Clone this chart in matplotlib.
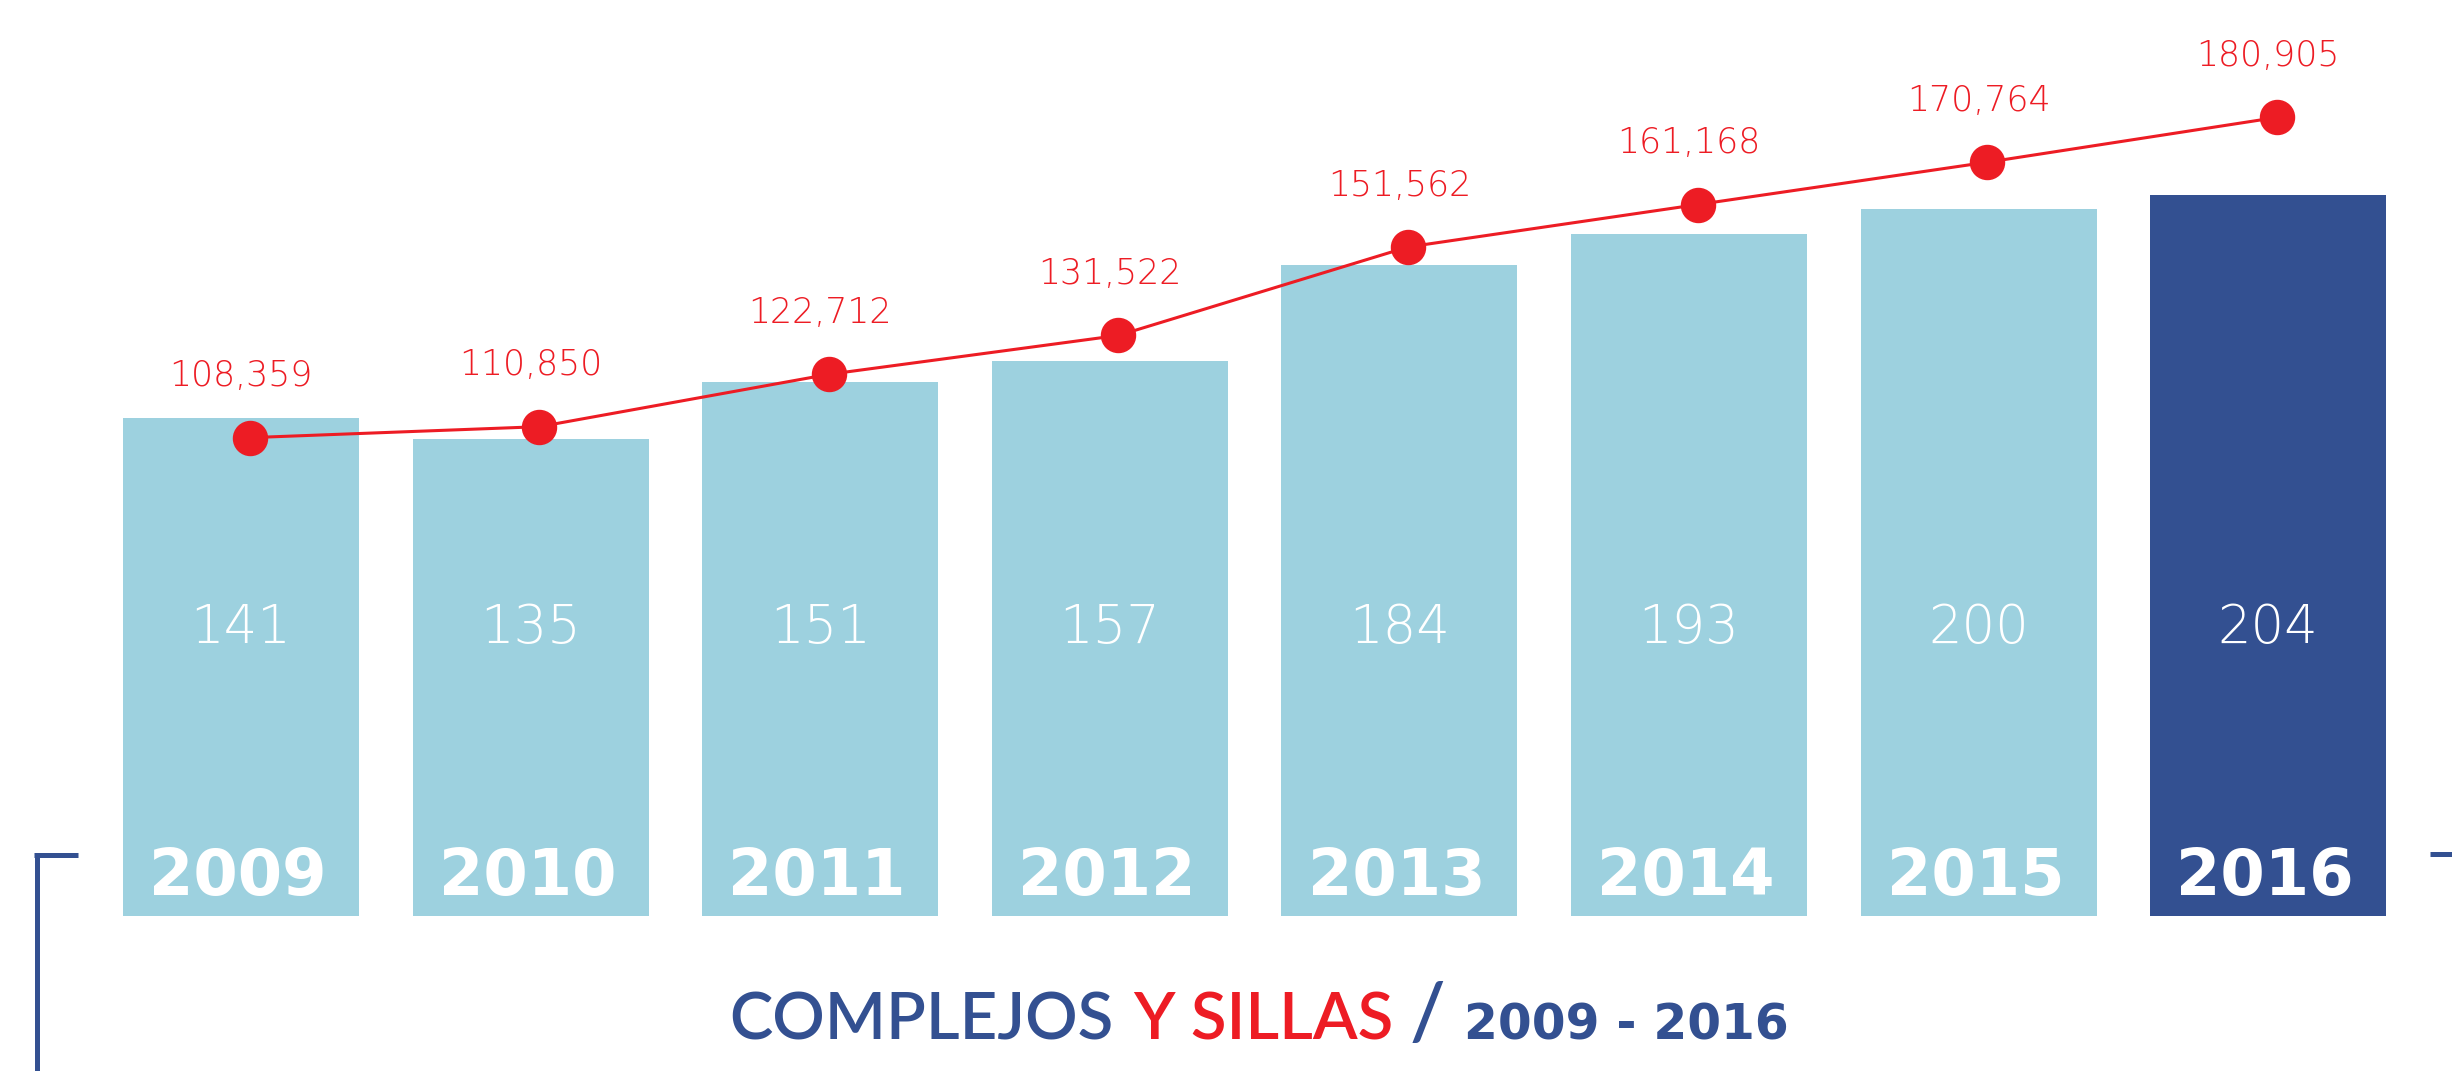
import numpy as np
import matplotlib.pyplot as plt
from matplotlib.lines import Line2D

years = ['2009', '2010', '2011', '2012', '2013', '2014', '2015', '2016']
complejos = [141, 135, 151, 157, 184, 193, 200, 204]
sillas = [108359, 110850, 122712, 131522, 151562, 161168, 170764, 180905]

LIGHT = '#9dd1df'
DARK = '#335091'
RED = '#ed1c24'
FONT = 'Lato'
THIN = 'DejaVu Sans'

W, H = 2452, 1071
fig = plt.figure(figsize=(W / 100, H / 100), dpi=100)
ax = fig.add_axes([0, 0, 1, 1])
ax.axis('off')

x = np.arange(len(years))
bar_colors = [LIGHT] * (len(years) - 1) + [DARK]
ax.bar(x, complejos, width=0.815, color=bar_colors, zorder=1)
ax.set_xlim(-0.832, 7.635)
ax.set_ylim(-43.85, 259.1)

# values inside the bars, years at the foot of each bar
for xi, v, yr in zip(x, complejos, years):
    ax.text(xi, 77.2, str(v), ha='center', va='baseline', color='white',
            fontsize=38, fontfamily=THIN, fontweight='ultralight')
    ax.text(xi - 0.01, 5.9, yr, ha='center', va='baseline', color='white',
            fontsize=46, fontfamily='DejaVu Sans', fontweight='bold')

# --- seats line on its own scale ---
ax2 = ax.twinx()
ax2.axis('off')
ax2.set_ylim(-43.85 * 800.9, 259.1 * 800.9)
lx = x + 0.03
ax2.plot(lx, sillas, color=RED, lw=2.2, marker='o', ms=24.5, zorder=3)
for xi, v in zip(x, sillas):
    ax2.annotate(f'{v:,}', (xi, v), xytext=(0, 37), textcoords='offset points',
                 ha='center', va='baseline', color=RED, fontsize=25,
                 fontfamily=THIN, fontweight='ultralight')

# --- corner brackets ---
def px(xp, yp):
    return xp / W, 1 - yp / H

for (x0, y0), (x1, y1) in [((36.5, 1071), (36.5, 855)), ((34, 855), (78, 855)),
                           ((2430, 854), (2452, 854))]:
    a, b = px(x0, y0)
    c, d = px(x1, y1)
    fig.lines.append(Line2D([a, c], [b, d], transform=fig.transFigure,
                            color=DARK, lw=3.6, solid_capstyle='butt'))

# --- title in pieces ---
base = 1 - 1039 / H
pieces = [
    ('COMPLEJOS', DARK, 47, 'semibold', FONT, 19),
    ('Y SILLAS', RED, 47, 'semibold', FONT, 17),
    ('/', DARK, 56, 'semibold', FONT, 18),
    ('2009 - 2016', DARK, 35, 'bold', 'DejaVu Sans', 0),
]
texts = []
for s, col, fs, fw, fam, gap in pieces:
    t = fig.text(0, base, s, color=col, fontsize=fs, fontweight=fw,
                 fontfamily=fam, ha='left', va='baseline')
    texts.append((t, gap))

fig.canvas.draw()
r = fig.canvas.get_renderer()
widths = [t.get_window_extent(r).width for t, _ in texts]
total = sum(widths) + sum(g for _, g in texts[:-1])
xpos = 1259 - total / 2
for (t, gap), w in zip(texts, widths):
    t.set_x(xpos / W)
    xpos += w + gap

fig.savefig('out.png', dpi=100)
